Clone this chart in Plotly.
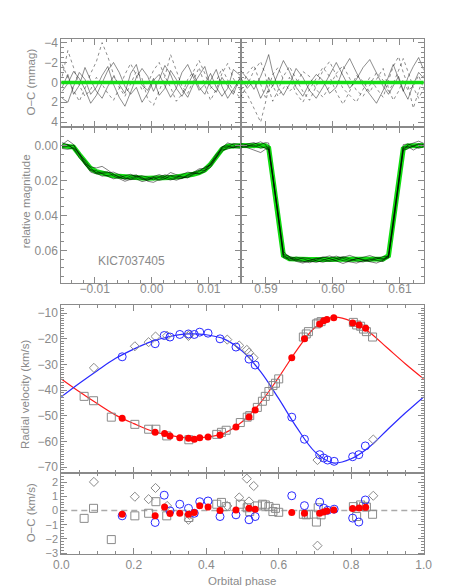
import plotly.graph_objects as go

GRAY = "#8a8a8a"
GREEN = "#11dd11"
FONT = "Liberation Sans"

# ---- light curve: primary eclipse (left) ----
phase_pri = [-0.0157, -0.0147, -0.0137, -0.0127, -0.0117, -0.0107, -0.0097, -0.0087,
             -0.0077, -0.0067, -0.0057, -0.0047, -0.0037, -0.0027, -0.0017, -0.0007,
             0.0003, 0.0013, 0.0023, 0.0033, 0.0043, 0.0053, 0.0063, 0.0073,
             0.0083, 0.0093, 0.0103, 0.0113, 0.0123, 0.0133, 0.0143, 0.0155]
model_pri = [0.0002, 0.0003, 0.0010, 0.0052, 0.0098, 0.0132, 0.0150, 0.0160,
             0.0167, 0.0173, 0.0177, 0.0181, 0.0184, 0.0186, 0.0187, 0.0188,
             0.0188, 0.0187, 0.0185, 0.0183, 0.0180, 0.0176, 0.0171, 0.0165,
             0.0156, 0.0140, 0.0108, 0.0062, 0.0022, 0.0005, 0.0002, 0.0002]

# ---- light curve: secondary eclipse (right) ----
phase_sec = [0.5862, 0.5872, 0.5882, 0.5892, 0.5899, 0.5904, 0.5910, 0.5918,
             0.5926, 0.5935, 0.5945, 0.5955, 0.5965, 0.5975, 0.5985, 0.5995,
             0.6005, 0.6015, 0.6025, 0.6035, 0.6045, 0.6055, 0.6065, 0.6075,
             0.6083, 0.6090, 0.6098, 0.6105, 0.6112, 0.6120, 0.6128, 0.6136]
model_sec = [0.0001, 0.0001, 0.0001, 0.0001, 0.0002, 0.0015, 0.0175, 0.0390,
             0.0628, 0.0648, 0.0651, 0.0652, 0.0652, 0.0652, 0.0652, 0.0652,
             0.0652, 0.0652, 0.0652, 0.0652, 0.0652, 0.0652, 0.0651, 0.0648,
             0.0630, 0.0445, 0.0225, 0.0020, 0.0003, 0.0001, 0.0001, 0.0001]

# ---- O-C of the individual eclipses (mmag) ----
res_pri_a = [0.5, -0.8, 1.2, 0.3, -1.5, -0.2, 0.9, 1.6, 0.4, -0.6, 0.2, 1.1, -0.9, -1.8, 0.3, 0.8,
             -0.4, 1.3, 0.6, -1.2, -0.3, 0.7, 1.5, 0.2, -0.7, -1.6, 0.4, 1.0, -0.5, 0.3, 1.2, -0.6]
res_pri_b = [-1.8, -0.5, 0.8, 1.9, 0.6, -0.9, -2.1, -4.0, -2.6, -0.8, 0.5, 1.4, 0.2, -1.1, -0.4, 1.7,
             2.3, 0.9, -0.6, -2.8, -1.3, 0.4, 1.1, -0.2, -1.5, 0.3, 1.8, 0.7, -0.9, -1.9, -0.4, 0.8]
res_pri_c = [1.6, 2.0, 0.4, -1.0, -0.3, 1.2, 0.5, -0.7, -1.6, 0.2, 1.5, 2.4, 1.0, -0.5, -1.4, -0.6,
             0.9, -0.3, -1.7, -0.8, 0.6, 1.4, 0.3, -0.9, 0.5, 1.2, -0.2, -1.3, 0.4, 1.6, 0.7, -0.4]
res_pri_d = [-0.6, -3.2, -1.5, 0.3, 1.4, 0.7, -0.5, 0.2, 1.1, 1.8, 0.6, -0.8, -1.9, -0.7, 0.8, 0.1,
             -1.2, -2.0, -0.6, 0.5, 1.9, 1.2, -0.3, -1.1, -2.2, -0.9, 0.6, -0.1, -1.4, -0.3, 0.9, 1.5]
res_pri_e = [0.9, 0.1, -1.1, -0.4, 0.7, 2.1, 1.3, 0.0, -1.2, -2.0, -1.0, 0.4, 1.2, 0.5, 2.0, 1.1,
             -0.2, -0.8, 0.4, 1.5, 0.6, -1.0, -1.8, -0.5, 0.8, 0.2, -0.9, 0.5, 1.4, 0.6, -1.3, -0.7]

res_sec_a = [0.4, 1.2, 2.6, 4.0, 2.1, 0.6, -0.8, -1.5, -0.3, 0.9, 0.2, -1.1, -0.6, 0.7, 1.5, 0.4,
             -0.9, -1.7, -0.4, 0.8, 1.4, 0.3, -1.0, -0.2, 0.9, 0.1, -1.2, -2.4, -1.1, 0.5, 1.6, 0.6]
res_sec_b = [-1.2, -0.4, 0.7, -0.6, -1.8, -2.8, -1.0, 0.5, 1.3, 0.2, -1.4, -0.5, 0.8, 1.6, 0.5, -0.8,
             -2.0, -0.7, 0.6, -0.3, -1.5, -2.3, -0.9, 0.4, 1.2, 0.3, -0.6, 0.8, 1.7, 0.2, -1.0, -0.4]
res_sec_c = [0.8, -0.9, -1.7, 0.2, 1.5, 0.6, 1.9, 0.8, -0.6, -1.6, -0.4, 0.9, 1.8, 0.4, -1.2, -2.1,
             -0.7, 0.6, 1.3, 2.0, 0.7, -0.5, 0.6, 1.5, -0.2, -1.6, -2.6, -1.0, 0.3, 2.6, 0.9, -0.8]
res_sec_d = [-0.5, 0.6, -0.2, 1.6, 0.7, -0.5, 0.4, -0.9, -2.2, -1.1, 0.5, 1.4, 0.1, -0.8, -0.2, 1.1,
             0.5, -1.3, -2.4, -1.0, 0.3, 1.2, 2.1, 0.8, -0.6, -1.8, -0.4, 0.9, -0.5, -1.6, -2.5, -1.2]
res_sec_e = [1.5, 0.3, -1.2, -2.1, -0.8, 1.0, 0.3, 1.4, 0.6, -0.5, 1.1, 2.0, 0.7, -0.4, -1.5, -0.6,
             1.0, 2.2, 0.9, -0.7, -0.1, 1.0, -0.3, -1.4, 0.6, 1.8, 0.9, -0.3, 0.8, 0.4, -0.7, 0.7]

res_pri = [res_pri_a, res_pri_b, res_pri_c, res_pri_d, res_pri_e]
res_sec = [res_sec_a, res_sec_b, res_sec_c, res_sec_d, res_sec_e]

# ---- radial velocity orbit models (km/s) ----
phase_orb = [0.00, 0.05, 0.10, 0.15, 0.20, 0.25, 0.30, 0.35, 0.40, 0.45, 0.50,
             0.55, 0.60, 0.65, 0.70, 0.75, 0.80, 0.85, 0.90, 0.95, 1.00]
rv_model_1 = [-35.6, -40.6, -45.3, -49.7, -53.0, -55.9, -57.6, -58.6, -58.3, -56.7, -52.2,
              -44.8, -35.0, -24.4, -15.6, -11.6, -13.1, -17.4, -23.6, -29.8, -35.6]
rv_model_2 = [-42.6, -37.3, -32.3, -27.6, -24.0, -21.0, -19.1, -18.1, -18.4, -20.1, -24.9,
              -32.8, -43.3, -54.6, -64.0, -68.3, -66.7, -62.1, -55.4, -48.8, -42.6]

# red filled circles: primary star
ph_red = [0.168, 0.259, 0.285, 0.300, 0.327, 0.351, 0.367, 0.382, 0.405, 0.438, 0.482,
          0.518, 0.535, 0.636, 0.671, 0.713, 0.724, 0.733, 0.752, 0.804, 0.822, 0.840]
rv_red = [-50.9, -56.4, -56.9, -57.8, -58.5, -58.7, -59.1, -58.5, -58.2, -57.4, -54.3,
          -50.4, -47.7, -27.4, -20.0, -14.2, -13.0, -12.5, -11.8, -13.8, -14.6, -15.9]
oc_red = [-0.25, -0.37, 0.25, -0.20, -0.18, -0.25, -0.14, 0.35, 0.25, 0.00, 0.05,
          0.16, 0.10, -0.14, -0.19, -0.19, -0.10, -0.02, 0.05, 0.14, 0.18, 0.23]

# blue open circles: secondary star
ph_blue = [0.168, 0.259, 0.284, 0.300, 0.327, 0.351, 0.367, 0.382, 0.405, 0.438, 0.482,
           0.518, 0.535, 0.636, 0.671, 0.713, 0.724, 0.735, 0.753, 0.804, 0.821, 0.839]
rv_blue = [-27.0, -21.9, -18.7, -19.3, -18.3, -18.1, -18.3, -17.4, -17.8, -20.0, -23.2,
           -27.9, -30.2, -50.5, -59.1, -65.1, -66.4, -67.2, -67.7, -65.9, -65.1, -61.7]
oc_blue = [-0.37, -0.84, 1.09, -0.02, 0.45, 0.16, -0.19, 0.63, 0.68, -0.42, -0.30,
           -0.65, -0.42, 1.05, 0.35, 0.60, 0.18, 0.02, 0.10, -0.53, -0.81, 0.75]

# grey squares: primary star, other spectrograph
ph_sq = [0.063, 0.089, 0.138, 0.203, 0.241, 0.261, 0.291, 0.352, 0.429, 0.442, 0.455,
         0.494, 0.513, 0.520, 0.541, 0.555, 0.563, 0.573, 0.584, 0.591, 0.600, 0.668,
         0.676, 0.682, 0.704, 0.709, 0.717, 0.806, 0.815, 0.826, 0.834, 0.842, 0.859]
rv_sq = [-42.4, -44.1, -50.5, -53.3, -55.2, -55.2, -57.8, -59.3, -57.2, -56.4, -55.6,
         -52.6, -50.5, -49.9, -46.7, -44.3, -42.4, -40.5, -38.2, -37.3, -35.6, -19.3,
         -18.1, -17.2, -14.2, -13.8, -13.3, -13.6, -14.6, -15.1, -16.2, -17.2, -19.3]
oc_sq = [-0.55, 0.16, -2.05, -0.37, -0.19, 0.63, -0.37, -0.49, 0.45, 0.58, 0.28,
         0.45, 0.20, -0.07, 0.33, 0.45, 0.40, 0.28, -0.07, 0.16, -0.12, -0.26,
         -0.30, -0.26, -0.81, 0.20, -0.30, 0.28, -0.42, 0.40, 0.30, 0.25, -0.26]

# grey diamonds: secondary star, other spectrograph
ph_dia = [0.090, 0.203, 0.241, 0.260, 0.292, 0.351, 0.353, 0.458, 0.491, 0.512, 0.518,
          0.531, 0.707, 0.861]
rv_dia = [-31.3, -22.9, -21.3, -19.1, -18.8, -18.9, -18.5, -20.3, -22.6, -24.3, -25.4,
          -27.4, -67.2, -59.2]
oc_dia = [2.03, 0.98, 0.81, 1.60, 0.33, -0.65, -0.30, 0.33, 0.93, 2.26, 0.65,
          1.74, -2.48, 1.05]

fig = go.Figure()

# O-C of light curves (top panels)
for i, r in enumerate(res_pri):
    fig.add_trace(go.Scatter(x=phase_pri, y=r, mode="lines", xaxis="x", yaxis="y",
                             line=dict(color="rgba(0,0,0,0.75)", width=0.6,
                                       dash="dot" if i % 2 else "solid")))
for i, r in enumerate(res_sec):
    fig.add_trace(go.Scatter(x=phase_sec, y=r, mode="lines", xaxis="x2", yaxis="y2",
                             line=dict(color="rgba(0,0,0,0.75)", width=0.6,
                                       dash="dot" if i % 2 == 0 else "solid")))

# light curves
fig.add_trace(go.Scatter(x=phase_pri, y=model_pri, mode="lines", xaxis="x3", yaxis="y3",
                         line=dict(color=GREEN, width=5)))
fig.add_trace(go.Scatter(x=phase_sec, y=model_sec, mode="lines", xaxis="x4", yaxis="y4",
                         line=dict(color=GREEN, width=5)))
for r in res_pri:
    obs = [m + d / 1000 for m, d in zip(model_pri, r)]
    fig.add_trace(go.Scatter(x=phase_pri, y=obs, mode="lines", xaxis="x3", yaxis="y3",
                             line=dict(color="rgba(0,0,0,0.85)", width=0.6)))
for r in res_sec:
    obs = [m + d / 1000 for m, d in zip(model_sec, r)]
    fig.add_trace(go.Scatter(x=phase_sec, y=obs, mode="lines", xaxis="x4", yaxis="y4",
                             line=dict(color="rgba(0,0,0,0.85)", width=0.6)))

# RV curves
fig.add_trace(go.Scatter(x=phase_orb, y=rv_model_1, mode="lines", xaxis="x5", yaxis="y5",
                         line=dict(color="#ff1a1a", width=1.2, shape="spline")))
fig.add_trace(go.Scatter(x=phase_orb, y=rv_model_2, mode="lines", xaxis="x5", yaxis="y5",
                         line=dict(color="#2a2aff", width=1.2, shape="spline")))

marker_sq = dict(symbol="square-open", size=8, color=GRAY, line=dict(width=1, color=GRAY))
marker_dia = dict(symbol="diamond-open", size=7, color=GRAY, line=dict(width=1, color=GRAY))
marker_blue = dict(symbol="circle-open", size=8, color="#2a2aff", line=dict(width=1, color="#2a2aff"))
marker_red = dict(symbol="circle", size=7, color="#ff0000")

for ax_y, ys in (("y5", (rv_sq, rv_dia, rv_blue, rv_red)), ("y6", (oc_sq, oc_dia, oc_blue, oc_red))):
    ax_x = "x5" if ax_y == "y5" else "x6"
    for xs, yv, mk in zip((ph_sq, ph_dia, ph_blue, ph_red), ys,
                          (marker_sq, marker_dia, marker_blue, marker_red)):
        fig.add_trace(go.Scatter(x=xs, y=yv, mode="markers", xaxis=ax_x, yaxis=ax_y,
                                 marker=mk, cliponaxis=True))


def axis(**kw):
    d = dict(showline=True, linecolor=GRAY, linewidth=1, mirror="allticks",
             ticks="inside", ticklen=6, tickcolor=GRAY, showgrid=False, zeroline=False,
             tickfont=dict(family=FONT, size=12, color=GRAY), tickmode="linear")
    d.update(kw)
    return d


def minor(step):
    return dict(ticks="inside", ticklen=3, tickcolor=GRAY, dtick=step, showgrid=False)


xl, xm, xr = 47 / 469, 233 / 469, 423 / 469
def ydom(top, bot):
    return [1 - bot / 586, 1 - top / 586]

pri_range = [-0.01585, 0.01556]
sec_range = [0.5862, 0.61355]

fig.update_layout(
    width=469, height=586, margin=dict(l=0, r=0, t=0, b=0),
    paper_bgcolor="white", plot_bgcolor="white", showlegend=False,
    font=dict(family=FONT, color=GRAY),
    xaxis=axis(domain=[xl, xm], range=pri_range, anchor="y", tick0=0, dtick=0.01,
               minor=minor(0.002), showticklabels=False),
    yaxis=axis(domain=ydom(28, 117), range=[4.45, -4.4], anchor="x", tick0=0, dtick=2,
               minor=minor(0.5)),
    xaxis2=axis(domain=[xm, xr], range=sec_range, anchor="y2", tick0=0.59, dtick=0.01,
                minor=minor(0.002), showticklabels=False),
    yaxis2=axis(domain=ydom(28, 117), range=[4.45, -4.4], anchor="x2", tick0=0, dtick=2,
                minor=minor(0.5), showticklabels=False),
    xaxis3=axis(domain=[xl, xm], range=pri_range, anchor="y3", tick0=0, dtick=0.01,
                minor=minor(0.002), tickformat=".2f", ticklabelstandoff=-5),
    yaxis3=axis(domain=ydom(117, 275), range=[0.0784, -0.0107], anchor="x3", tick0=0,
                dtick=0.02, minor=minor(0.005), tickformat=".2f"),
    xaxis4=axis(domain=[xm, xr], range=sec_range, anchor="y4", tick0=0.59, dtick=0.01,
                minor=minor(0.002), tickformat=".2f", ticklabelstandoff=-5),
    yaxis4=axis(domain=ydom(117, 275), range=[0.0784, -0.0107], anchor="x4", tick0=0,
                dtick=0.02, minor=minor(0.005), showticklabels=False),
    xaxis5=axis(domain=[xl, xr], range=[0, 1], anchor="y5", tick0=0, dtick=0.2,
                minor=minor(0.05), showticklabels=False),
    yaxis5=axis(domain=ydom(298, 468), range=[-72.4, -7.0], anchor="x5", tick0=0,
                dtick=10, minor=minor(1)),
    xaxis6=axis(domain=[xl, xr], range=[0, 1], anchor="y6", tick0=0, dtick=0.2,
                minor=minor(0.05), tickformat=".1f", ticklabelstandoff=-1),
    yaxis6=axis(domain=ydom(468, 550), range=[-3.1, 2.63], anchor="x6", tick0=0,
                dtick=1, minor=minor(0.2), tickfont=dict(family=FONT, size=11, color=GRAY)),
)

# zero lines
fig.add_shape(type="line", xref="x domain", yref="y", x0=0, x1=1, y0=0, y1=0,
              line=dict(color=GREEN, width=3.5), layer="above")
fig.add_shape(type="line", xref="x2 domain", yref="y2", x0=0, x1=1, y0=0, y1=0,
              line=dict(color=GREEN, width=3.5), layer="above")
fig.add_shape(type="line", xref="x6 domain", yref="y6", x0=0, x1=1, y0=0, y1=0,
              line=dict(color="#aaaaaa", width=1.5, dash="6px,4px"), layer="below")

tfont = dict(family=FONT, size=11.5, color=GRAY)
labels = [
    ("O−C (mmag)", 16, 72),
    ("relative magnitude", 10, 193),
    ("Radial velocity (km/s)", 10, 388),
    ("O−C (km/s)", 16, 508),
]
for text, px, py in labels:
    fig.add_annotation(text=text, x=px / 469, y=1 - py / 586, xref="paper", yref="paper",
                       xanchor="center", yanchor="middle",
                       textangle=-90, showarrow=False, font=tfont)
fig.add_annotation(text="Orbital phase", x=234 / 469, y=1 - 577 / 586, xref="paper",
                   yref="paper", xanchor="center", yanchor="middle", showarrow=False,
                   font=tfont)
fig.add_annotation(text="KIC7037405", x=-0.0035, y=0.0659, xref="x3", yref="y3",
                   showarrow=False, font=dict(family=FONT, size=12, color=GRAY))

fig.write_html("out.html")
